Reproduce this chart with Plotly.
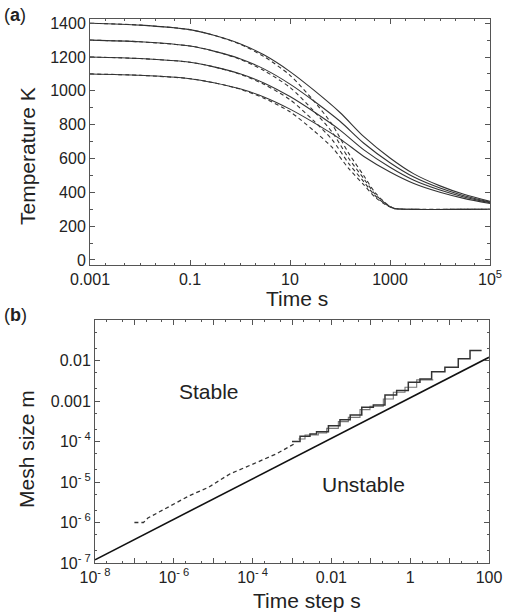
import plotly.graph_objects as go
import math

# ---------------- Panel (a) data ----------------
t_solid = [0.001, 0.01, 0.1, 0.3, 1, 3, 10, 30, 100, 300, 1000, 3000, 1e4, 3e4, 1e5]
T1400_solid = [1400, 1389, 1362, 1329, 1279, 1213, 1114, 1004, 872, 729, 603, 509, 438, 388, 346]
T1300_solid = [1300, 1290, 1265, 1235, 1190, 1130, 1040, 940, 820, 690, 575, 490, 425, 380, 342]
T1200_solid = [1200, 1191, 1169, 1142, 1101, 1047, 966, 876, 768, 651, 548, 471, 413, 372, 338]
T1100_solid = [1100, 1092, 1072, 1048, 1012, 964, 892, 812, 716, 612, 520, 452, 400, 364, 334]

t_dash = [0.001, 0.01, 0.1, 0.3, 1, 3, 10, 30, 70, 150, 300, 500, 800, 1200, 2000, 1e5]
T1400_dash = [1400, 1389, 1362, 1329, 1276, 1203, 1092, 940, 800, 630, 498, 399, 339, 306, 300, 300]
T1300_dash = [1300, 1290, 1265, 1235, 1187, 1120, 1020, 880, 755, 600, 480, 390, 335, 305, 300, 300]
T1200_dash = [1200, 1191, 1169, 1142, 1099, 1039, 948, 822, 710, 570, 462, 381, 332, 305, 300, 300]
T1100_dash = [1100, 1092, 1072, 1048, 1010, 957, 876, 764, 665, 540, 444, 372, 328, 304, 300, 300]

a_xtickvals = [1e-3, 1e-1, 10, 1000, 1e5]
a_xticktext = ['0.001', '0.1', '10', '1000', '10<sup>5</sup>']
a_ytickvals = [0, 200, 400, 600, 800, 1000, 1200, 1400]

# ---------------- Panel (b) data ----------------
limit_dt = [1e-8, 100]
limit_dx = [1.2e-7, 1.2e-2]

dash_dt = [1e-7, 1.7e-7, 2.2e-7, 7.9e-7, 2.6e-6, 7.6e-6, 2.7e-5, 1.05e-4, 4.1e-4, 1.2e-3]
dash_dx = [1.0e-6, 1.0e-6, 1.29e-6, 2.5e-6, 4.7e-6, 7.4e-6, 1.6e-5, 2.8e-5, 5.0e-5, 9.0e-5]

stair1_dt = [1.0e-3, 1.6e-3, 2.86e-3, 4.2e-3, 8.4e-3, 0.0165, 0.030, 0.059, 0.116, 0.229,
             0.453, 0.895, 1.77, 3.5, 7.6, 16.6, 33, 65]
stair1_dx = [1.0e-4, 1.34e-4, 1.53e-4, 1.75e-4, 2.46e-4, 3.46e-4, 4.52e-4, 7.0e-4, 8.0e-4,
             1.41e-3, 1.81e-3, 2.9e-3, 3.5e-3, 5.3e-3, 6.8e-3, 0.011, 0.0177, 0.0177]

stair2_dt = [1.45e-3, 2.14e-3, 4.66e-3, 7.6e-3, 0.015, 0.0269, 0.0532, 0.0953, 0.208,
             0.373, 0.738, 1.46, 3.86]
stair2_dx = [1.15e-4, 1.45e-4, 1.62e-4, 2.11e-4, 3.09e-4, 3.95e-4, 6.12e-4, 7.4e-4,
             1.12e-3, 1.64e-3, 2.19e-3, 3.32e-3, 3.32e-3]

b_xtickvals = [1e-8, 1e-7, 1e-6, 1e-5, 1e-4, 1e-3, 1e-2, 1e-1, 1, 10, 100]
b_xticktext = ['10<sup>- 8</sup>', '', '10<sup>- 6</sup>', '', '10<sup>- 4</sup>', '', '0.01', '', '1', '', '100']
b_ytickvals = [1e-7, 1e-6, 1e-5, 1e-4, 1e-3, 1e-2, 1e-1]
b_yticktext = ['10<sup>- 7</sup>', '10<sup>- 6</sup>', '10<sup>- 5</sup>', '10<sup>- 4</sup>', '0.001', '0.01', '']

LINE = '#333333'
FONT = 'Liberation Sans, Arial, sans-serif'
W, H = 507, 612

fig = go.Figure()

for ys in [T1400_solid, T1300_solid, T1200_solid, T1100_solid]:
    fig.add_trace(go.Scatter(x=t_solid, y=ys, mode='lines', line=dict(color=LINE, width=1.1, shape='spline', smoothing=0.8),
                             xaxis='x', yaxis='y', showlegend=False))
for ys in [T1400_dash, T1300_dash, T1200_dash, T1100_dash]:
    fig.add_trace(go.Scatter(x=t_dash, y=ys, mode='lines', line=dict(color=LINE, width=1.1, dash='4px,3px', shape='spline', smoothing=0.8),
                             xaxis='x', yaxis='y', showlegend=False))

fig.add_trace(go.Scatter(x=limit_dt, y=limit_dx, mode='lines', line=dict(color='#111111', width=1.6),
                         xaxis='x2', yaxis='y2', showlegend=False))
fig.add_trace(go.Scatter(x=dash_dt, y=dash_dx, mode='lines', line=dict(color=LINE, width=1.3, dash='4px,3px'),
                         xaxis='x2', yaxis='y2', showlegend=False))
fig.add_trace(go.Scatter(x=stair2_dt, y=stair2_dx, mode='lines', line=dict(color='#777777', width=1.1, shape='hv'),
                         xaxis='x2', yaxis='y2', showlegend=False))
fig.add_trace(go.Scatter(x=stair1_dt, y=stair1_dx, mode='lines', line=dict(color='#333333', width=1.5, shape='hv'),
                         xaxis='x2', yaxis='y2', showlegend=False))

axis_common = dict(showline=True, linecolor='#555555', linewidth=1, mirror='allticks', ticks='inside',
                   tickcolor='#555555', ticklen=5, showgrid=False, zeroline=False, automargin=False,
                   tickfont=dict(family=FONT, size=16, color='#222222'))


def ann(text, x, y, size, angle=0):
    return dict(text=text, x=x / W, y=1 - y / H, xref='paper', yref='paper', xanchor='center',
                yanchor='middle', showarrow=False, textangle=angle, font=dict(size=size, family=FONT, color='#222222'))


fig.update_layout(
    width=W, height=H, margin=dict(l=0, r=0, t=0, b=0),
    paper_bgcolor='white', plot_bgcolor='white',
    font=dict(family=FONT, color='#222222'),
    xaxis=dict(axis_common, type='log', domain=[90/W, 490/W], anchor='y',
               range=[math.log10(1e-3), math.log10(1e5)],
               tickvals=a_xtickvals, ticktext=a_xticktext,
               minor=dict(ticks='inside', ticklen=2, tickcolor='#555555')),
    yaxis=dict(axis_common, domain=[1 - 265/H, 1 - 19/H], anchor='x',
               range=[-30, 1425], tickvals=a_ytickvals,
               minor=dict(ticks='inside', ticklen=3, dtick=100, tickcolor='#555555')),
    xaxis2=dict(axis_common, type='log', domain=[95/W, 489/W], anchor='y2',
                range=[-8, 2], tickvals=b_xtickvals, ticktext=b_xticktext,
                minor=dict(ticks='inside', ticklen=2, tickcolor='#555555')),
    yaxis2=dict(axis_common, type='log', domain=[1 - 563/H, 1 - 320/H], anchor='x2',
                range=[-7, -1], tickvals=b_ytickvals, ticktext=b_yticktext,
                minor=dict(ticks='inside', ticklen=2, tickcolor='#555555')),
    annotations=[
        dict(text='(<b>a</b>)', x=2/W, y=1 - 3/H, xref='paper', yref='paper', xanchor='left', yanchor='top',
             showarrow=False, font=dict(size=18, family=FONT, color='#222222')),
        dict(text='(<b>b</b>)', x=2/W, y=1 - 303/H, xref='paper', yref='paper', xanchor='left', yanchor='top',
             showarrow=False, font=dict(size=18, family=FONT, color='#222222')),
        ann('Time s', 297, 298, 21),
        ann('Time step s', 307, 600, 21),
        ann('Temperature K', 27, 156, 21, -90),
        ann('Mesh size m', 27, 449, 21, -90),
        ann('Stable', 209, 392, 21),
        ann('Unstable', 363, 484, 21),
    ],
)

fig.write_html('out.html')
